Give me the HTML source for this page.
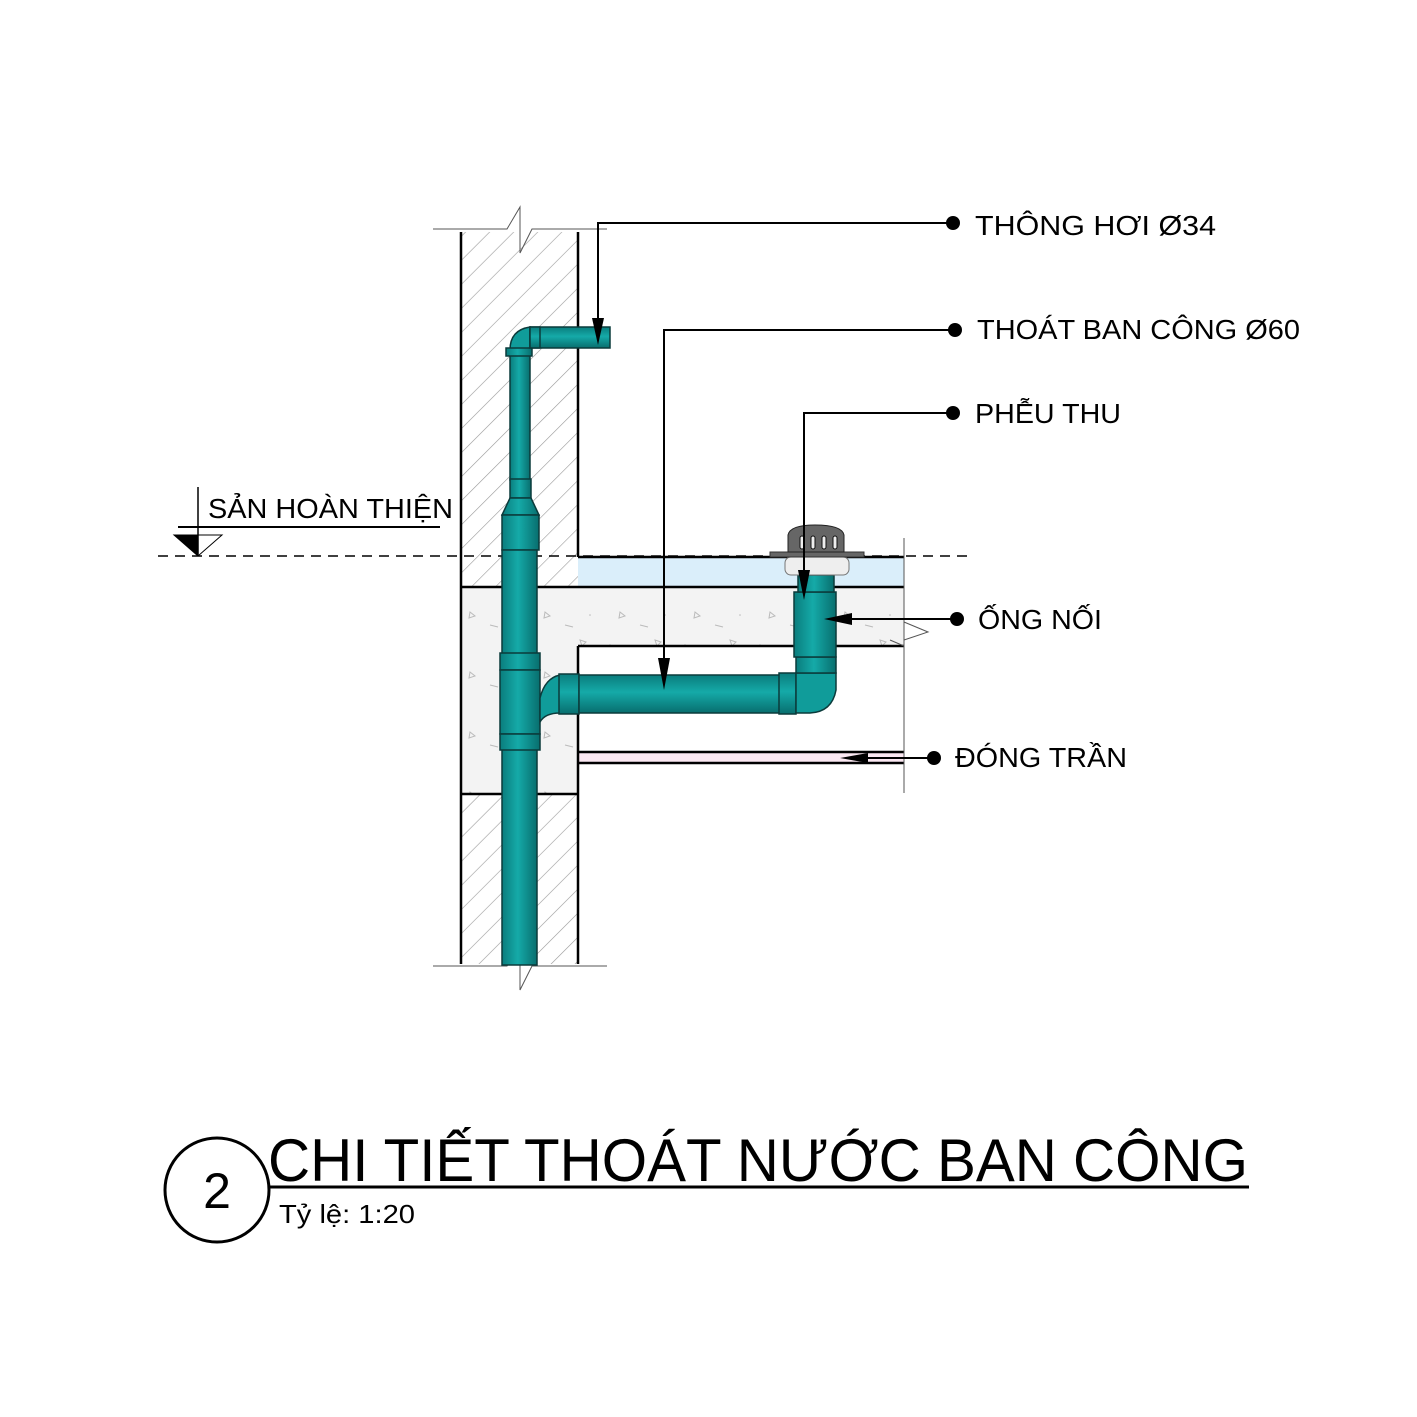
<!DOCTYPE html>
<html><head><meta charset="utf-8"><style>html,body{margin:0;padding:0;background:#fff}svg{display:block}</style></head>
<body>
<svg width="1417" height="1417" viewBox="0 0 1417 1417" xmlns="http://www.w3.org/2000/svg" font-family="Liberation Sans, Noto Sans CJK SC, sans-serif">
<defs>
<pattern id="hatch" patternUnits="userSpaceOnUse" width="17" height="17" patternTransform="rotate(45)">
<rect width="17" height="17" fill="#fff"/><line x1="0" y1="0" x2="0" y2="17" stroke="#999" stroke-width="1.2"/>
</pattern>
<pattern id="conc" patternUnits="userSpaceOnUse" width="75" height="60">
<rect width="75" height="60" fill="#f3f3f3"/>
<path d="M20 12 l5 4 l-6 2z M55 40 l6 2 l-4 4z M40 25 l8 2" stroke="#bbb" fill="none" stroke-width="1"/>
<circle cx="10" cy="45" r="0.8" fill="#bbb"/><circle cx="65" cy="15" r="0.8" fill="#bbb"/>
</pattern>
<linearGradient id="pv" x1="0" x2="1" y1="0" y2="0"><stop offset="0" stop-color="#0a7d7d"/><stop offset="0.45" stop-color="#15aaa8"/><stop offset="1" stop-color="#086e6e"/></linearGradient>
<linearGradient id="ph" x1="0" x2="0" y1="0" y2="1"><stop offset="0" stop-color="#0a7d7d"/><stop offset="0.45" stop-color="#15aaa8"/><stop offset="1" stop-color="#086e6e"/></linearGradient>
</defs>

<!-- walls -->
<rect x="461" y="232" width="117" height="325" fill="url(#hatch)"/>
<rect x="461" y="557" width="117" height="30" fill="url(#hatch)"/>
<rect x="461" y="794" width="117" height="170" fill="url(#hatch)"/>
<!-- slab -->
<rect x="578" y="557" width="326" height="30" fill="#daeefa"/>
<rect x="461" y="587" width="443" height="59" fill="url(#conc)"/>
<rect x="461" y="646" width="117" height="148" fill="url(#conc)"/>
<rect x="578" y="752" width="326" height="11" fill="#fbe8f2"/>
<g stroke="#000" stroke-width="2.5" fill="none">
<line x1="461" y1="232" x2="461" y2="964"/>
<line x1="578" y1="232" x2="578" y2="557"/>
<line x1="578" y1="646" x2="578" y2="964"/>
<line x1="578" y1="557" x2="904" y2="557"/>
<line x1="461" y1="587" x2="904" y2="587"/>
<line x1="578" y1="646" x2="904" y2="646"/>
<line x1="461" y1="794" x2="578" y2="794"/>
<line x1="578" y1="752" x2="904" y2="752"/>
<line x1="578" y1="763" x2="904" y2="763"/>
</g>
<g stroke="#555" stroke-width="1" fill="none">
<path d="M433 229 H507 L520 207 V253 L532 229 H607"/>
<path d="M433 966 H507 L520 944 V990 L532 966 H607"/>
<path d="M904 538 V793"/>
<path d="M904 622 L928 632 L904 640"/>
<path d="M890 640 L904 646"/>
</g>
<line x1="158" y1="556" x2="970" y2="556" stroke="#000" stroke-width="1.5" stroke-dasharray="10,7"/>

<!-- pipes -->
<g stroke="#0b3b3b" stroke-width="1.5">
<rect x="510" y="350" width="20" height="130" fill="url(#pv)"/>
<path d="M510 350 Q510 330 530 327 L530 348 Z" fill="#109c9a"/>
<rect x="506" y="348" width="26" height="8" fill="url(#pv)"/>
<rect x="530" y="327" width="80" height="21" fill="url(#ph)"/>
<rect x="530" y="327" width="10" height="21" fill="url(#ph)"/>
<rect x="510" y="479" width="21" height="19" fill="url(#pv)"/>
<path d="M510 498 L531 498 L539 515 L502 515 Z" fill="url(#pv)"/>
<rect x="502" y="515" width="37" height="35" fill="url(#pv)"/>
<rect x="502" y="550" width="35" height="415" fill="url(#pv)"/>
<rect x="500" y="653" width="40" height="17" fill="url(#pv)"/>
<rect x="500" y="670" width="40" height="64" fill="url(#pv)"/>
<path d="M540 698 Q545 678 560 675 L560 713 Q545 713 540 722Z" fill="#109c9a"/>
<rect x="500" y="734" width="40" height="16" fill="url(#pv)"/>
<rect x="559" y="674" width="20" height="40" fill="url(#ph)"/>
<rect x="579" y="675" width="201" height="38" fill="url(#ph)"/>
<rect x="779" y="673" width="17" height="41" fill="url(#ph)"/>
<path d="M796 673 L836 673 L836 690 Q832 712 810 713 L796 713Z" fill="#109c9a"/>
<rect x="796" y="657" width="40" height="16" fill="url(#pv)"/>
<rect x="794" y="592" width="42" height="65" fill="url(#pv)"/>
<rect x="798" y="575" width="36" height="17" fill="url(#pv)"/>
</g>
<!-- floor drain -->
<rect x="785" y="557" width="64" height="18" rx="6" fill="#eee" stroke="#777"/>
<rect x="770" y="552" width="94" height="5" fill="#666" stroke="#333"/>
<path d="M788 552 V535 Q790 525 815 525 Q842 525 844 535 V552Z" fill="#666" stroke="#222"/>
<g fill="#eee" stroke="#111" stroke-width="1"><rect x="800" y="536" width="4" height="13" rx="2"/><rect x="811" y="536" width="4" height="13" rx="2"/><rect x="822" y="536" width="4" height="13" rx="2"/><rect x="833" y="536" width="4" height="13" rx="2"/></g>

<!-- leaders -->
<g stroke="#000" stroke-width="2" fill="none">
<path d="M953 223 H598 V320"/>
<path d="M955 330 H664 V670"/>
<path d="M953 413 H804 V580"/>
<path d="M957 619 H850"/>
<path d="M934 758 H860"/>
</g>
<g fill="#000">
<path d="M592 318 L604 318 L598 345Z"/>
<path d="M658 658 L670 658 L664 690Z"/>
<path d="M798 570 L810 570 L804 600Z"/>
<path d="M852 613 L852 625 L824 619Z"/>
<path d="M868 753 L868 763 L840 758Z"/>
<circle cx="953" cy="223" r="7"/><circle cx="955" cy="330" r="7"/><circle cx="953" cy="413" r="7"/><circle cx="957" cy="619" r="7"/><circle cx="934" cy="758" r="7"/>
</g>
<g font-size="28" fill="#000">
<text x="975" y="235" textLength="241" lengthAdjust="spacingAndGlyphs">THÔNG HƠI Ø34</text>
<text x="977" y="339" textLength="323" lengthAdjust="spacingAndGlyphs">THOÁT BAN CÔNG Ø60</text>
<text x="975" y="423" textLength="146" lengthAdjust="spacingAndGlyphs">PHỄU THU</text>
<text x="978" y="629" textLength="124" lengthAdjust="spacingAndGlyphs">ỐNG NỐI</text>
<text x="955" y="767" textLength="172" lengthAdjust="spacingAndGlyphs">ĐÓNG TRẦN</text>
<text x="208" y="518" textLength="245" lengthAdjust="spacingAndGlyphs">SẢN HOÀN THIỆN</text>
</g>
<!-- level mark -->
<g stroke="#000" fill="none">
<line x1="198" y1="487" x2="198" y2="556" stroke-width="1.5"/>
<line x1="178" y1="527" x2="440" y2="527" stroke-width="2"/>
<path d="M198 556 L174 535 L222 535 Z" stroke-width="1"/>
</g>
<path d="M198 556 L174 535 L198 535Z" fill="#000"/>

<!-- title -->
<circle cx="217" cy="1190" r="52" fill="none" stroke="#000" stroke-width="3"/>
<text x="217" y="1208" font-size="50" text-anchor="middle">2</text>
<text x="268" y="1181" font-size="60" textLength="980" lengthAdjust="spacingAndGlyphs">CHI TIẾT THOÁT NƯỚC BAN CÔNG</text>
<line x1="268" y1="1187" x2="1249" y2="1187" stroke="#000" stroke-width="3"/>
<text x="279" y="1223" font-size="26" textLength="136" lengthAdjust="spacingAndGlyphs">Tỷ lệ: 1:20</text>
</svg>
</body></html>
